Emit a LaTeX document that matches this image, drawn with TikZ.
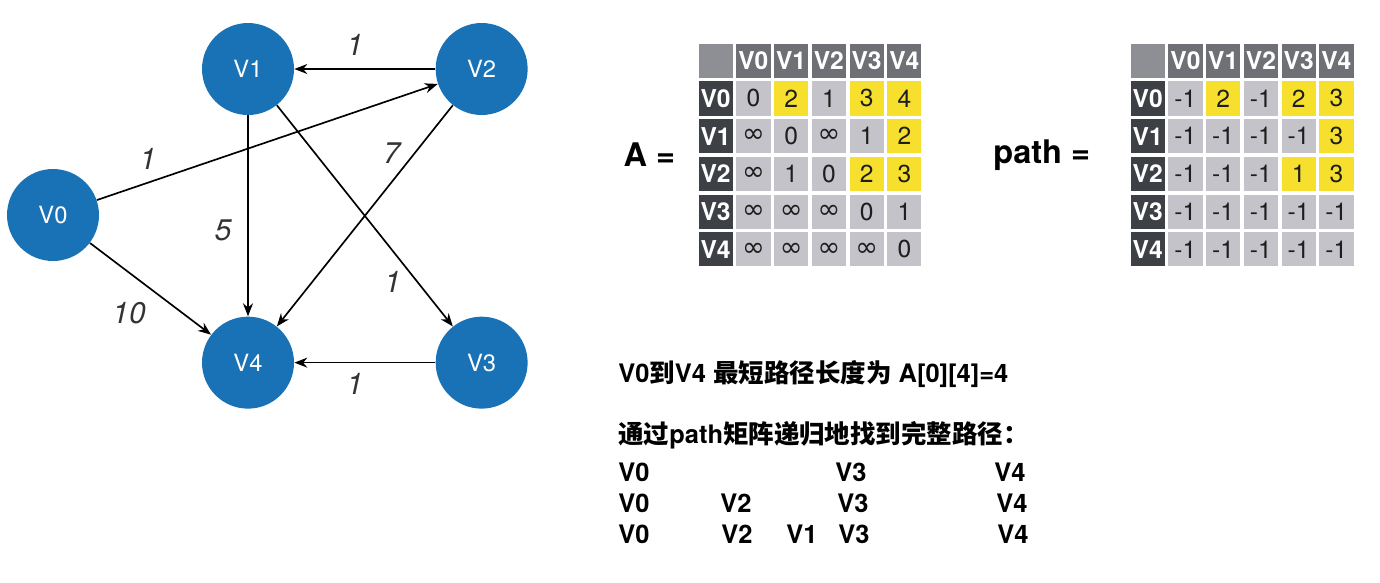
\documentclass[tikz,border=0pt]{standalone}
\usepackage{fontspec}
\setmainfont{TeX Gyre Heros}
\newfontfamily\cjk{Noto Sans CJK SC}
\newfontfamily\symfont{DejaVu Sans}
\usepackage{tikz}
\usetikzlibrary{arrows.meta,positioning,matrix}
\definecolor{vblue}{HTML}{1A72B6}
\definecolor{labgray}{HTML}{333333}
\definecolor{cellgray}{HTML}{C3C3C9}
\definecolor{hdgray}{HTML}{6F7075}
\definecolor{rhgray}{HTML}{3D4045}
\definecolor{cornergray}{HTML}{8E8F94}
\definecolor{hlyellow}{HTML}{F6E02D}
\definecolor{numblack}{HTML}{1E1E1E}
\newcommand{\infsym}{{\symfont\fontsize{15.5}{15}\selectfont ∞}}

\begin{document}
\begin{tikzpicture}[x=0.02cm, y=-0.02cm,
    vert/.style={circle, fill=vblue, minimum size=1.84cm, inner sep=0pt, text=white,
                 font=\fontsize{13.5}{14}\selectfont},
    arr/.style={-{Stealth[length=2.6mm, width=2mm]}, line width=0.95pt},
    elab/.style={font=\fontsize{17}{17}\selectfont\itshape, text=labgray, inner sep=1pt},
    mat/.style={matrix of nodes, nodes={cell, anchor=center}, inner sep=0pt,
                column sep=0pt, row sep=0pt},
    cell/.style={draw=white, line width=1pt, fill=cellgray, minimum size=0.72cm, inner sep=0pt,
                 text=numblack, font=\fontsize{14}{14}\selectfont},
    hd/.style={fill=hdgray, text=white, font=\fontsize{14}{14}\selectfont\bfseries},
    rh/.style={fill=rhgray, text=white, font=\fontsize{14}{14}\selectfont\bfseries},
    corner/.style={fill=cornergray},
    yel/.style={fill=hlyellow},
    eq/.style={font=\fontsize{18.5}{19}\selectfont\bfseries, inner sep=0pt},
    txt/.style={font=\fontsize{14.5}{16}\selectfont\bfseries, anchor=base west, inner sep=0pt}]
  \useasboundingbox (0,0) rectangle (1380,582);

  % the graph
  \node[vert] (V1) at (248,69) {V1};
  \node[vert, right=2.82cm of V1] (V2) {V2};
  \node[vert, below=4.02cm of V1] (V4) {V4};
  \node[vert, right=2.82cm of V4] (V3) {V3};
  \node[vert] (V0) at (53,215) {V0};

  \draw[arr] (V2) -- node[elab, pos=0.57, above=2.2mm] (w21) {1} (V1);
  \draw[arr] (V0) -- node[elab, pos=0.15, above=2.2mm] (w02) {1} (V2);
  \draw[arr] (V1) -- node[elab, pos=0.57, left=2.8mm] (w14) {5} (V4);
  \draw[arr] (V2) -- node[elab, pos=0.28, above left=0.3mm] (w24) {7} (V4);
  \draw[arr] (V1) -- node[elab, pos=0.73, below left=0.5mm] (w13) {1} (V3);
  \draw[arr] (V0) -- node[elab, pos=0.49, below left=2.4mm and 0.2mm] (w04) {10} (V4);
  \draw[arr] (V3) -- node[elab, pos=0.57, below=1.6mm] (w34) {1} (V4);

  % distance matrix
  \matrix (A) [mat] at (810,155) {
    |[corner]| & |[hd]| V0 & |[hd]| V1 & |[hd]| V2 & |[hd]| V3 & |[hd]| V4 \\
    |[rh]| V0 & 0 & |[yel]| 2 & 1 & |[yel]| 3 & |[yel]| 4 \\
    |[rh]| V1 & \infsym & 0 & \infsym & 1 & |[yel]| 2 \\
    |[rh]| V2 & \infsym & 1 & 0 & |[yel]| 2 & |[yel]| 3 \\
    |[rh]| V3 & \infsym & \infsym & \infsym & 0 & 1 \\
    |[rh]| V4 & \infsym & \infsym & \infsym & \infsym & 0 \\
  };
  \node[eq, left=4.2mm of A] (Alab) {A =};

  % path matrix
  \matrix (P) [mat] at (1242,155) {
    |[corner]| & |[hd]| V0 & |[hd]| V1 & |[hd]| V2 & |[hd]| V3 & |[hd]| V4 \\
    |[rh]| V0 & -1 & |[yel]| 2 & -1 & |[yel]| 2 & |[yel]| 3 \\
    |[rh]| V1 & -1 & -1 & -1 & -1 & |[yel]| 3 \\
    |[rh]| V2 & -1 & -1 & -1 & |[yel]| 1 & |[yel]| 3 \\
    |[rh]| V3 & -1 & -1 & -1 & -1 & -1 \\
    |[rh]| V4 & -1 & -1 & -1 & -1 & -1 \\
  };
  \node[eq, left=7.6mm of P] (Plab) {path =};

  % result
  \node[txt] (len) at (618,382) {V0{\cjk 到}V4 {\cjk 最短路径长度为} A[0][4]=4};
  \node[txt] (how) at (618,443) {{\cjk 通过}path{\cjk 矩阵递归地找到完整路径：}};
  \foreach \lab/\px/\row in {V0/618/1, V3/835/1, V4/994/1,
                             V0/618/2, V2/720/2, V3/837/2, V4/996/2,
                             V0/618/3, V2/721/3, V1/786/3, V3/838/3, V4/997/3}
    \node[txt] (r\row\lab) at (\px,450+31*\row) {\lab};
\end{tikzpicture}
\end{document}
